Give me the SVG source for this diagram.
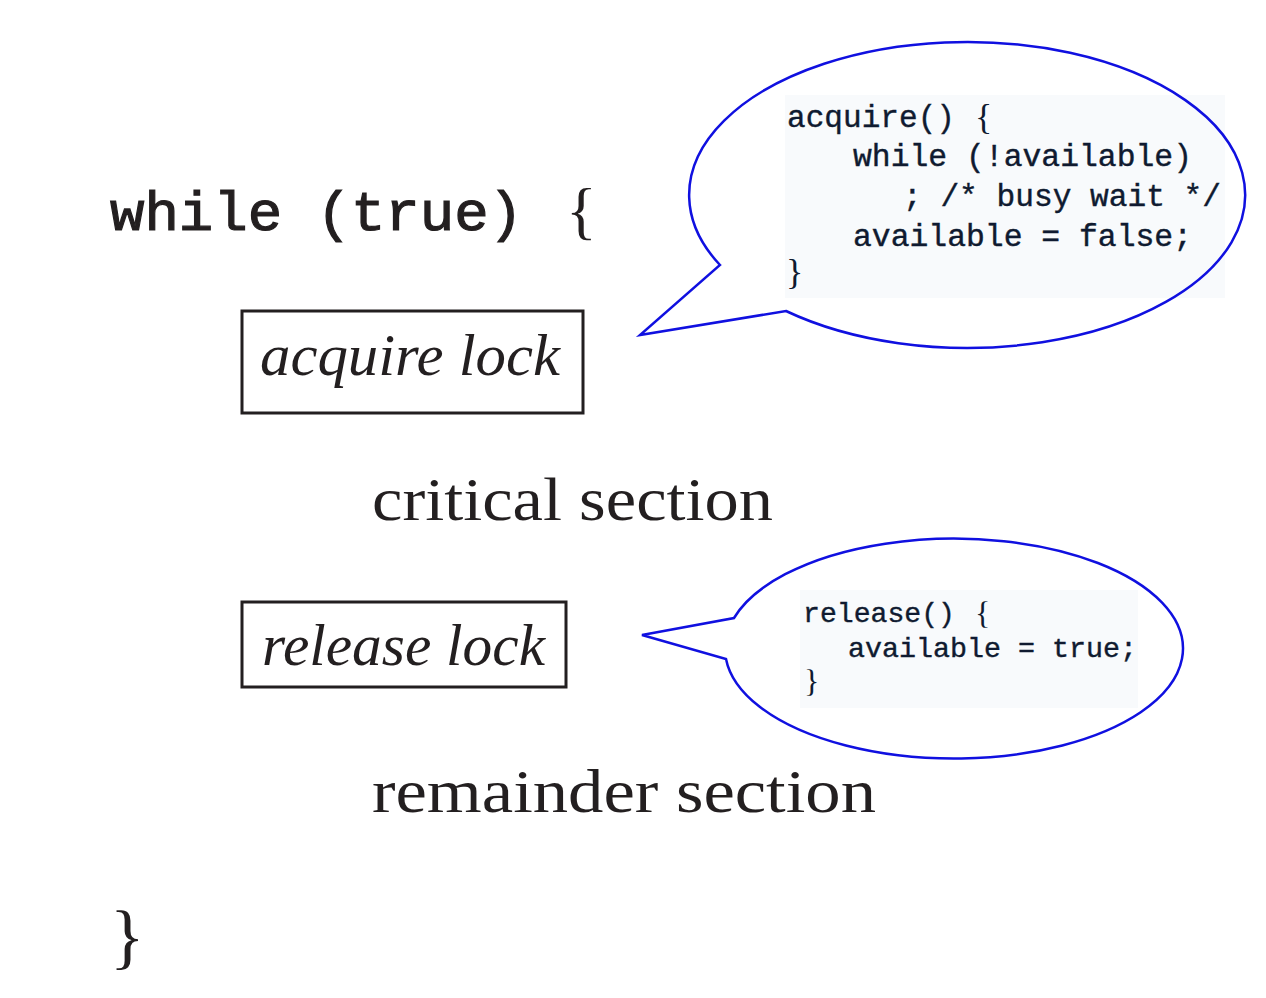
<svg xmlns="http://www.w3.org/2000/svg" width="1266" height="998" viewBox="0 0 1266 998">
<style>
.mono{font-family:"Liberation Mono","DejaVu Sans Mono",monospace;fill:#231f20;stroke:#231f20;stroke-width:1.2}
.serif{font-family:"Liberation Serif","DejaVu Serif",serif;fill:#231f20}
.it{font-family:"Liberation Serif","DejaVu Serif",serif;font-style:italic;fill:#231f20}
.code{font-family:"Liberation Mono","DejaVu Sans Mono",monospace;fill:#0f1a30;stroke:#0f1a30;stroke-width:0.4}
.cbrace{font-family:"Liberation Serif","DejaVu Serif",serif;fill:#0f1a30}
.bubble{fill:none;stroke:#1010e0;stroke-width:2.5;stroke-linejoin:miter}
.box{fill:none;stroke:#231f20;stroke-width:3}
.codebg{fill:#f8fafc}
</style>
<rect width="1266" height="998" fill="#ffffff"/>
<g id="code-backgrounds">
<rect class="codebg" x="785" y="95" width="440" height="203"/>
<rect class="codebg" x="800" y="590" width="338" height="118"/>
</g>
<g id="loop-head">
<text class="mono" x="110" y="230" font-size="56" textLength="413" lengthAdjust="spacingAndGlyphs">while (true)</text>
<text class="serif" x="566" y="232" font-size="64">{</text>
</g>
<g id="acquire-lock">
<rect class="box" x="242" y="311" width="341" height="102"/>
<text class="it" x="260" y="375" font-size="60" textLength="300" lengthAdjust="spacingAndGlyphs">acquire lock</text>
</g>
<g id="critical-section">
<text class="serif" x="372" y="520" font-size="62" textLength="401" lengthAdjust="spacingAndGlyphs">critical section</text>
</g>
<g id="release-lock">
<rect class="box" x="242" y="602" width="324" height="85"/>
<text class="it" x="262" y="665" font-size="60" textLength="283" lengthAdjust="spacingAndGlyphs">release lock</text>
</g>
<g id="remainder-section">
<text class="serif" x="372" y="812" font-size="62" textLength="504" lengthAdjust="spacingAndGlyphs">remainder section</text>
</g>
<g id="loop-end">
<text class="serif" x="110" y="960" font-size="72">}</text>
</g>
<g id="connectors">
<path id="acquire-bubble" class="bubble" d="M 720,265 A 278,153 0 1 1 786,311 L 640,335 Z"/>
<path id="release-bubble" class="bubble" d="M 734,618 A 229,110 0 1 1 726,659 L 642,635 Z"/>
</g>
<g id="acquire-code">
<text class="code" x="787" y="127" font-size="31" textLength="168" lengthAdjust="spacingAndGlyphs">acquire()</text>
<text class="cbrace" x="975" y="129" font-size="36">{</text>
<text class="code" x="853" y="166" font-size="31" textLength="339" lengthAdjust="spacingAndGlyphs">while (!available)</text>
<text class="code" x="903" y="206" font-size="31" textLength="318" lengthAdjust="spacingAndGlyphs">; /* busy wait */</text>
<text class="code" x="853" y="246" font-size="31" textLength="339" lengthAdjust="spacingAndGlyphs">available = false;</text>
<text class="cbrace" x="786" y="284" font-size="36">}</text>
</g>
<g id="release-code">
<text class="code" x="803" y="622" font-size="28" textLength="152" lengthAdjust="spacingAndGlyphs">release()</text>
<text class="cbrace" x="975" y="624" font-size="32">{</text>
<text class="code" x="848" y="657" font-size="28" textLength="289" lengthAdjust="spacingAndGlyphs">available = true;</text>
<text class="cbrace" x="804" y="692" font-size="32">}</text>
</g>
</svg>
